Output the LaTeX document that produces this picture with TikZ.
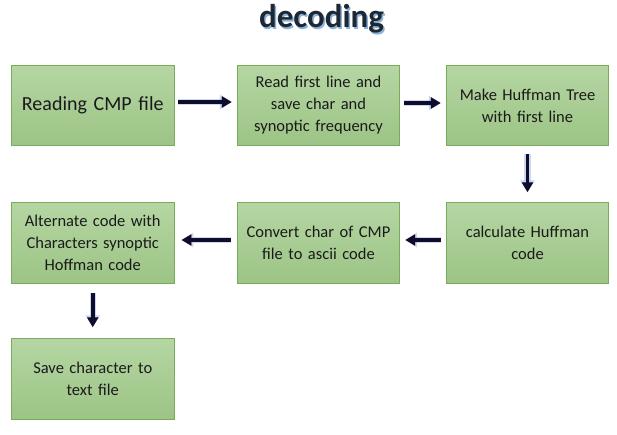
\documentclass[tikz,border=0pt]{standalone}
\usepackage{fontspec}
\setmainfont{Carlito}
\usetikzlibrary{arrows.meta}
\definecolor{boxtop}{HTML}{B5D6A3}
\definecolor{boxbot}{HTML}{9CC485}
\definecolor{boxline}{HTML}{79AB5C}
\definecolor{arrowcol}{HTML}{0E0E2C}
\definecolor{glowcol}{HTML}{6F93CF}
\definecolor{titlecol}{HTML}{1E2833}
\definecolor{titleshadow}{HTML}{8DB2DA}
\definecolor{textcol}{HTML}{1A1A1A}
\tikzset{
  stepbox/.style={draw=boxline, line width=0.9pt, top color=boxtop, bottom color=boxbot,
    minimum width=162.5pt, minimum height=80.5pt, text width=150pt, align=center,
    inner sep=0pt, text=textcol, font=\fontsize{16.5}{22}\selectfont},
  flow/.style={draw=arrowcol, line width=3.6pt, -{Triangle[length=10pt,width=11pt]},
    preaction={draw=glowcol, line width=6.5pt, opacity=0.35, -{Triangle[length=12pt,width=14pt]}}},
}
\begin{document}
\begin{tikzpicture}[x=1pt,y=-1pt]
\useasboundingbox (0,0) rectangle (617,435);
\fill[white] (0,0) rectangle (617,435);
% title with soft blue shadow
\node[anchor=base, text=titlecol, font=\fontsize{33}{36}\selectfont\bfseries, inner sep=0pt] (title) at (321.5,28)
  {\rlap{\hspace{1.5pt}\raisebox{-1.8pt}{\color{titleshadow}decoding}}decoding};
% boxes
\node[stepbox, font=\fontsize{20}{24}\selectfont] (b1) at (92.75,105.5) {Reading CMP file};
\node[stepbox] (b2) at (318.5,105.5) {Read first line and\\save char and\\synoptic frequency};
\node[stepbox] (b3) at (527.5,105.5) {Make Huffman Tree\\with first line};
\node[stepbox] (b6) at (527.5,243) {calculate Huffman\\code};
\node[stepbox] (b5) at (318.5,243) {Convert char of CMP\\file to ascii code};
\node[stepbox] (b4) at (92.75,243) {Alternate code with\\Characters synoptic\\Hoffman code};
\node[stepbox] (b7) at (92.75,379) {Save character to\\text file};
% arrows
\draw[flow] ([xshift=4pt,yshift=3.5pt]b1.east) -- ([xshift=-5pt,yshift=3.5pt]b2.west);
\draw[flow] ([xshift=4pt,yshift=2.5pt]b2.east) -- ([xshift=-5pt,yshift=2.5pt]b3.west);
\draw[flow] ([yshift=-8pt]b3.south) -- ([yshift=10pt]b6.north);
\draw[flow] ([xshift=-5pt,yshift=3pt]b6.west) -- ([xshift=5pt,yshift=3pt]b5.east);
\draw[flow] ([xshift=-6pt,yshift=3pt]b5.west) -- ([xshift=7pt,yshift=3pt]b4.east);
\draw[flow] ([yshift=-9pt]b4.south) -- ([yshift=11pt]b7.north);
\end{tikzpicture}
\end{document}
